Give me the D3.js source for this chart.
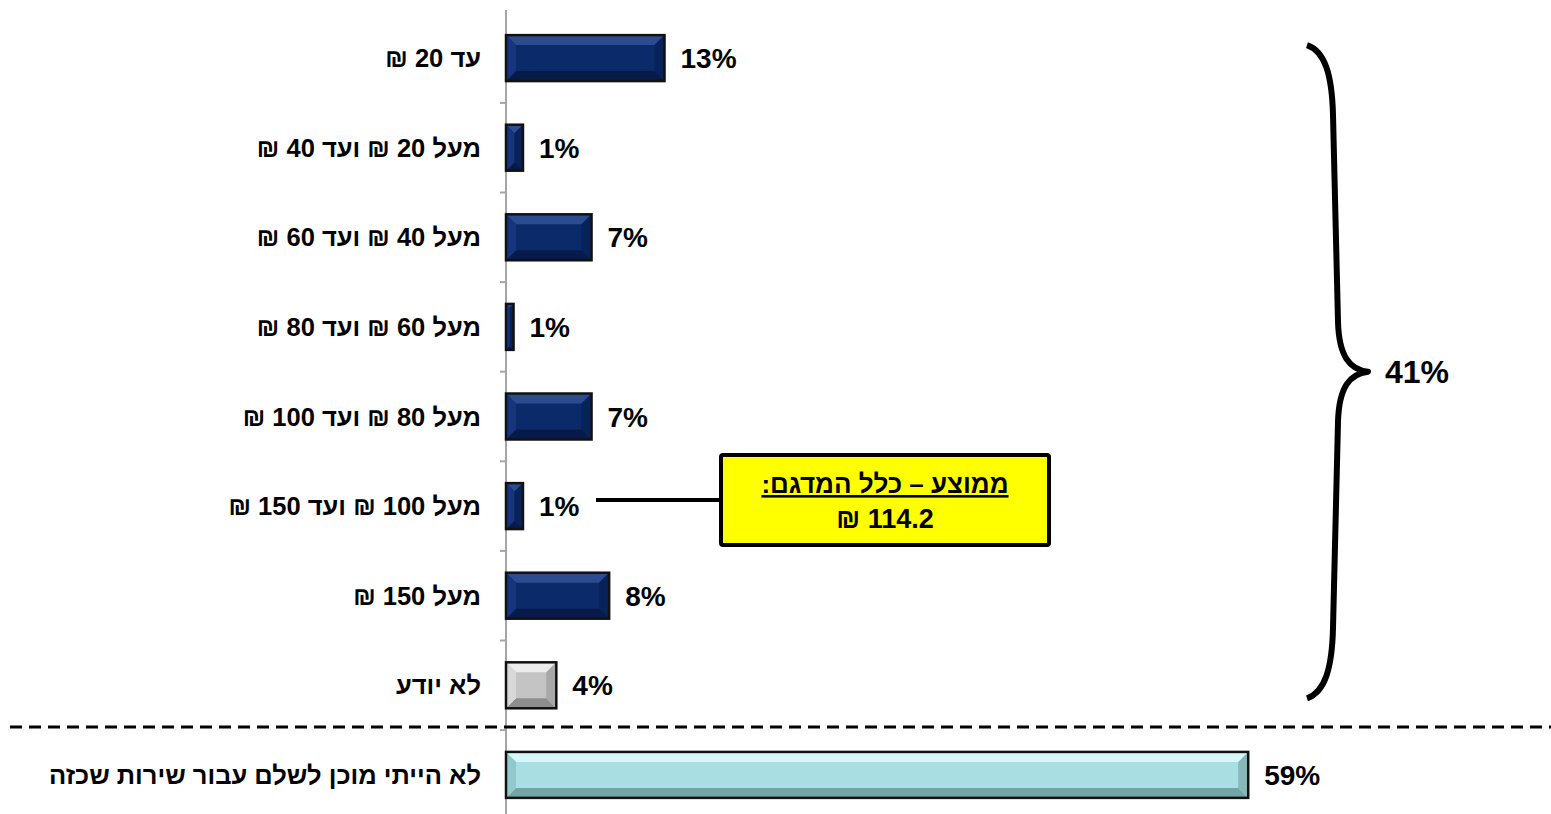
<html>
<head>
<meta charset="utf-8">
<style>
body { margin: 0; background: #ffffff; }
svg { display: block; font-family: Arial, "Liberation Sans", sans-serif; }
.cat { font-size: 25.5px; font-weight: bold; fill: #000; }
.val { font-size: 28px; font-weight: bold; fill: #000; }
</style>
<script src="https://d3js.org/d3.v7.min.js"></script>
</head>
<body>
<svg width="1551" height="814"></svg>
<script>
// categories (top to bottom)
var categories = ["עד 20 ₪", "מעל 20 ₪ ועד 40 ₪", "מעל 40 ₪ ועד 60 ₪", "מעל 60 ₪ ועד 80 ₪",
                  "מעל 80 ₪ ועד 100 ₪", "מעל 100 ₪ ועד 150 ₪", "מעל 150 ₪", "לא יודע",
                  "לא הייתי מוכן לשלם עבור שירות שכזה"];
// percent of respondents (labels are rounded)
var values = [12.6, 1.35, 6.8, 0.6, 6.8, 1.35, 8.2, 4.0, 59.0];
// colour group for each bar
var groups = ["navy", "navy", "navy", "navy", "navy", "navy", "navy", "gray", "cyan"];
var braceLabel = "41%";
var calloutLines = ["ממוצע – כלל המדגם:", "114.2 ₪"];

var palette = {
  navy: {mid: "#0b2a6a", top: "#2d4c90", bot: "#061b4a", left: "#16357a", right: "#08225a"},
  gray: {mid: "#c4c4c4", top: "#ececec", bot: "#8e8e8e", left: "#d8d8d8", right: "#a8a8a8"},
  cyan: {mid: "#a9dfe2", top: "#d6f8fa", bot: "#74a4a6", left: "#90c8cb", right: "#86b8ba"}
};

var svg = d3.select("svg");
var x0 = 506;

var x = d3.scaleLinear().domain([0, 60]).range([x0, x0 + 60 * 12.58]);
var y = d3.scaleBand().domain(categories).range([13.3, 819.7])
          .paddingInner(0.487).paddingOuter(0.2435);

// vertical axis with small ticks at band boundaries
svg.append("line").attr("x1", x0).attr("x2", x0).attr("y1", 10).attr("y2", 814)
   .attr("stroke", "#a6a6a6").attr("stroke-width", 2);
d3.range(1, categories.length).forEach(function(i) {
  var ty = y.range()[0] + i * y.step();
  svg.append("line").attr("x1", x0 - 6).attr("x2", x0).attr("y1", ty).attr("y2", ty)
     .attr("stroke", "#a6a6a6").attr("stroke-width", 2);
});

// dashed separator before last row
var sepY = y.range()[0] + 8 * y.step() - 3;
svg.append("line").attr("x1", 10).attr("x2", 1551).attr("y1", sepY).attr("y2", sepY)
   .attr("stroke", "#000").attr("stroke-width", 3).attr("stroke-dasharray", "12,7");

// bevelled bars
var bars = svg.selectAll(".bar").data(categories).enter().append("g").attr("class", "bar");
bars.each(function(c, i) {
  var g = d3.select(this);
  var col = palette[groups[i]];
  var bx = x(0), by = y(c), bw = x(values[i]) - x(0), bh = y.bandwidth();
  var b = Math.min(10, bw / 2, bh / 2);
  g.append("rect").attr("x", bx).attr("y", by).attr("width", bw).attr("height", bh)
   .attr("fill", col.mid);
  var poly = function(pts, fill) {
    g.append("polygon").attr("points", pts.map(function(p) { return p.join(","); }).join(" "))
     .attr("fill", fill);
  };
  poly([[bx, by], [bx + bw, by], [bx + bw - b, by + b], [bx + b, by + b]], col.top);
  poly([[bx, by + bh], [bx + bw, by + bh], [bx + bw - b, by + bh - b], [bx + b, by + bh - b]], col.bot);
  poly([[bx, by], [bx + b, by + b], [bx + b, by + bh - b], [bx, by + bh]], col.left);
  poly([[bx + bw, by], [bx + bw - b, by + b], [bx + bw - b, by + bh - b], [bx + bw, by + bh]], col.right);
  g.append("rect").attr("x", bx).attr("y", by).attr("width", bw).attr("height", bh)
   .attr("fill", "none").attr("stroke", "#111").attr("stroke-width", 2.5);
});

// value labels
svg.selectAll(".val").data(categories).enter().append("text")
   .attr("class", "val")
   .attr("x", function(c, i) { return x(values[i]) + 16; })
   .attr("y", function(c) { return y(c) + y.bandwidth() / 2; })
   .attr("dy", "0.36em")
   .text(function(c, i) { return Math.round(values[i]) + "%"; });

// category labels (right aligned, rtl)
svg.selectAll(".cat").data(categories).enter().append("text")
   .attr("class", "cat")
   .attr("direction", "rtl")
   .attr("text-anchor", "start")
   .attr("x", 481)
   .attr("y", function(c) { return y(c) + y.bandwidth() / 2; })
   .attr("dy", "0.36em")
   .text(function(c) { return c; });

// callout
var cy = y(categories[5]) + y.bandwidth() / 2 - 6;
svg.append("line").attr("x1", 596).attr("x2", 722).attr("y1", cy).attr("y2", cy)
   .attr("stroke", "#000").attr("stroke-width", 4);
svg.append("rect").attr("x", 721).attr("y", 455).attr("width", 328).attr("height", 90)
   .attr("rx", 2).attr("fill", "#ffff00").attr("stroke", "#000").attr("stroke-width", 4);
svg.append("text").attr("class", "cat").attr("direction", "rtl").attr("text-anchor", "middle")
   .attr("x", 885).attr("y", 493).attr("text-decoration", "underline")
   .style("font-size", "26px").text(calloutLines[0]);
svg.append("text").attr("class", "cat").attr("direction", "rtl").attr("text-anchor", "middle")
   .attr("x", 885).attr("y", 528)
   .style("font-size", "27px").text(calloutLines[1]);

// brace spanning all price rows
var bTop = y(categories[0]) + 10, bBot = y(categories[7]) + y.bandwidth() - 10;
var bMid = (bTop + bBot) / 2;
var brace = "M1307," + bTop +
  " C1325," + (bTop + 6) + " 1332," + (bTop + 30) + " 1333," + (bTop + 70) +
  " L1338," + (bMid - 50) +
  " C1339," + (bMid - 15) + " 1350," + (bMid - 2) + " 1368," + bMid +
  " C1350," + (bMid + 2) + " 1339," + (bMid + 15) + " 1338," + (bMid + 50) +
  " L1333," + (bBot - 70) +
  " C1332," + (bBot - 30) + " 1325," + (bBot - 6) + " 1307," + bBot;
svg.append("path").attr("d", brace).attr("fill", "none").attr("stroke", "#000")
   .attr("stroke-width", 6).attr("stroke-linejoin", "round");
svg.append("text").attr("class", "val").attr("x", 1385).attr("y", bMid).attr("dy", "0.36em")
   .style("font-size", "32px").text(braceLabel);
</script>
</body>
</html>
